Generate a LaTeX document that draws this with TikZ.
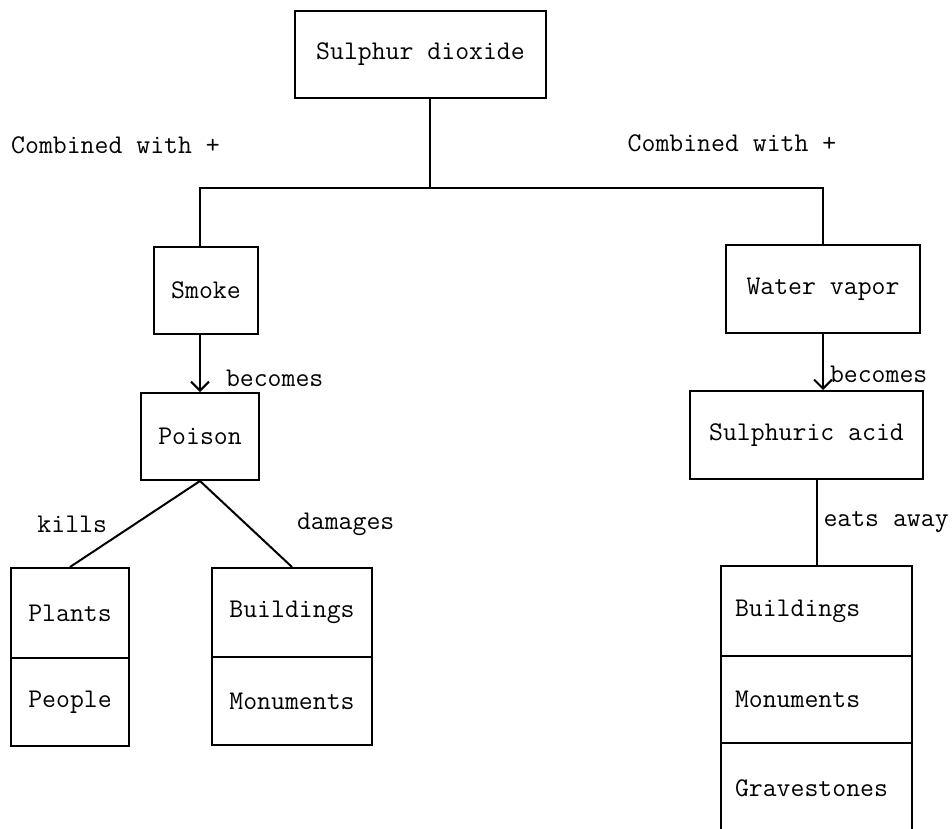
\documentclass[tikz,border=0pt]{standalone}
\usepackage{fontspec}
\usetikzlibrary{arrows.meta}

\begin{document}
\begin{tikzpicture}[x=1pt,y=-1pt,line width=2pt,
  lbl/.style={inner sep=0pt,font=\fontsize{27}{30}\selectfont\ttfamily},
  box/.style={lbl,draw},
  cellR/.style={box,text width=163pt,inner xsep=14pt,align=left,minimum height=88pt},
  tip/.style={-{Straight Barb[length=9pt,width=18pt]}}]
\clip (0,0) rectangle (952,828);

\node[box,minimum width=251pt,minimum height=87pt] (sulphur) at (420.5,54.5) {Sulphur dioxide};
\node[lbl] (combL) at (115.5,145) {Combined with +};
\node[lbl] (combR) at (732,143) {Combined with +};

\node[box,minimum width=104pt,minimum height=87pt] (smoke) at (206,290.5) {Smoke};
\node[box,minimum width=194pt,minimum height=88pt] (water) at (823,289) {Water vapor};
\node[box,minimum width=118pt,minimum height=87pt] (poison) at (200,436.5) {Poison};
\node[box,minimum width=233pt,minimum height=88pt] (acid) at (806.5,435) {Sulphuric acid};

\node[box,minimum width=118pt,minimum height=90pt] (plants) at (70,613) {Plants};
\node[box,minimum width=118pt,minimum height=88pt] (people) at (70,702) {People};
\node[box,minimum width=160pt,minimum height=89pt] (bldL) at (292,612.5) {Buildings};
\node[box,minimum width=160pt,minimum height=88pt] (monL) at (292,701) {Monuments};

\node[cellR,minimum height=90pt] (bldR) at (816.5,611) {Buildings};
\node[cellR,minimum height=87pt] (monR) at (816.5,699.5) {Monuments};
\node[cellR,minimum height=90pt] (graveR) at (816.5,788) {Gravestones};

\coordinate (split) at (430,188);
\draw (sulphur.south -| split) -- (split);
\draw (smoke.north -| poison) |- (split) -| (water.north);

\draw[tip] (smoke.south -| poison) -- node[lbl,right=25pt,pos=0.76] {becomes} (poison.north);
\draw[tip] (water.south) -- node[lbl,right=6pt,pos=0.72] {becomes} (water.south |- acid.north);

\draw (poison.south) -- node[lbl,left=27pt] {kills} (plants.north);
\draw (poison.south) -- node[lbl,right=50pt] {damages} (bldL.north);
\draw (acid.south -| bldR) -- node[lbl,right=6pt] {eats away} (bldR.north);
\end{tikzpicture}
\end{document}
